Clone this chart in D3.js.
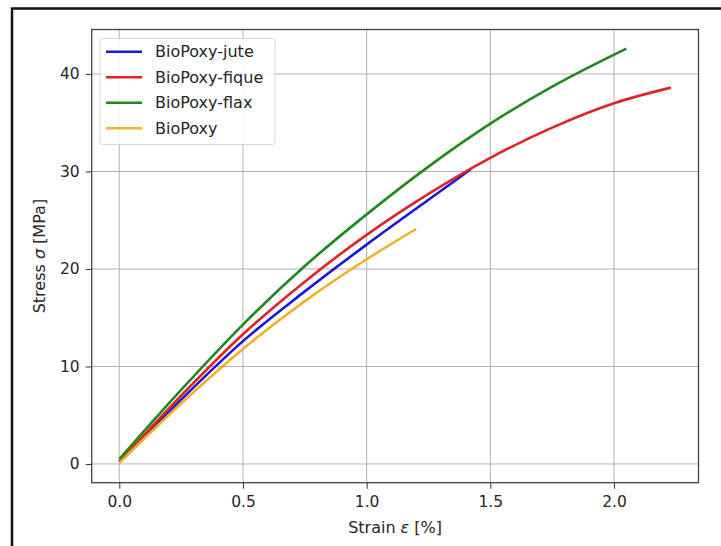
<!DOCTYPE html>
<meta charset="utf-8">
<style>
body {
  margin: 0;
  background: #fff;
  font-family: "DejaVu Sans";
}
.grid line {
  stroke: #b0b0b0;
  stroke-width: 1;
}
.tick text {
  font-size: 15.5px;
  fill: #262626;
}
.series {
  fill: none;
  stroke-width: 2.6;
}
</style>
<body>
<script src="https://d3js.org/d3.v7.min.js"></script>
<script>

var width = 721,
    height = 546;

var xTicks = [0.0, 0.5, 1.0, 1.5, 2.0],
    yTicks = [0, 10, 20, 30, 40];

var names = ["BioPoxy-jute", "BioPoxy-fique", "BioPoxy-flax", "BioPoxy"];
var colors = ["#1818d8", "#e02424", "#1e8a1e", "#f0b02a"];

// strain [%], stress [MPa]
var jute = [[0, 0.2], [0.25, 6.6], [0.5, 12.6], [0.75, 17.7], [1.0, 22.5], [1.25, 27.1], [1.42, 30.2]];
var fique = [[0, 0.2], [0.25, 7.0], [0.5, 13.3], [0.75, 18.7], [1.0, 23.5], [1.25, 27.7], [1.5, 31.4], [1.75, 34.5], [2.0, 37.0], [2.23, 38.6]];
var flax = [[0, 0.5], [0.25, 7.6], [0.5, 14.3], [0.75, 20.3], [1.0, 25.6], [1.25, 30.5], [1.5, 34.9], [1.75, 38.7], [2.05, 42.6]];
var bioPoxy = [[0, 0.1], [0.25, 6.2], [0.5, 11.8], [0.75, 16.7], [1.0, 21.0], [1.2, 24.1]];

var series = [jute, fique, flax, bioPoxy];

var plot = {left: 91.7, right: 698.5, top: 29.5, bottom: 482.7};

var x = d3.scaleLinear()
    .domain([-0.1115, 2.3415])
    .range([plot.left, plot.right]);

var y = d3.scaleLinear()
    .domain([-1.92, 44.56])
    .range([plot.bottom, plot.top]);

var svg = d3.select("body").append("svg")
    .attr("width", width)
    .attr("height", height);

svg.append("rect")
    .attr("width", width)
    .attr("height", height)
    .attr("fill", "#fff");

// outer frame around the figure
svg.append("rect")
    .attr("x", 12)
    .attr("y", 8.5)
    .attr("width", 720)
    .attr("height", 545)
    .attr("fill", "none")
    .attr("stroke", "#111")
    .attr("stroke-width", 2.5);

// grid
var grid = svg.append("g").attr("class", "grid");

grid.selectAll(".gx")
    .data(xTicks)
  .enter().append("line")
    .attr("x1", function(d) { return x(d); })
    .attr("x2", function(d) { return x(d); })
    .attr("y1", plot.top)
    .attr("y2", plot.bottom);

grid.selectAll(".gy")
    .data(yTicks)
  .enter().append("line")
    .attr("y1", function(d) { return y(d); })
    .attr("y2", function(d) { return y(d); })
    .attr("x1", plot.left)
    .attr("x2", plot.right);

// axes
var xAxis = svg.append("g")
    .attr("transform", "translate(0," + plot.bottom + ")")
    .call(d3.axisBottom(x).tickValues(xTicks).tickFormat(d3.format(".1f")).tickSize(6).tickPadding(7));

var yAxis = svg.append("g")
    .attr("transform", "translate(" + plot.left + ",0)")
    .call(d3.axisLeft(y).tickValues(yTicks).tickSize(6).tickPadding(6));

[xAxis, yAxis].forEach(function(a) {
  a.select(".domain").remove();
  a.selectAll(".tick line").attr("stroke", "#333").attr("stroke-width", 1);
  a.selectAll(".tick text").attr("font-family", "DejaVu Sans");
});

// lines
var line = d3.line()
    .x(function(d) { return x(d[0]); })
    .y(function(d) { return y(d[1]); })
    .curve(d3.curveMonotoneX);

svg.selectAll(".series")
    .data(series)
  .enter().append("path")
    .attr("class", "series")
    .attr("stroke", function(d, i) { return colors[i]; })
    .attr("d", line);

// spines
svg.append("rect")
    .attr("x", plot.left)
    .attr("y", plot.top)
    .attr("width", plot.right - plot.left)
    .attr("height", plot.bottom - plot.top)
    .attr("fill", "none")
    .attr("stroke", "#444")
    .attr("stroke-width", 1.3);

// axis labels (symbols in math italic)
function label(sel, before, sym, after) {
  sel.append("tspan").text(before);
  sel.append("tspan").attr("font-style", "italic").text(sym);
  sel.append("tspan").text(after);
}

svg.append("text")
    .attr("x", (plot.left + plot.right) / 2)
    .attr("y", 533)
    .attr("text-anchor", "middle")
    .attr("font-size", "16px")
    .attr("fill", "#262626")
    .call(label, "Strain ", "ε", " [%]");

svg.append("text")
    .attr("transform", "translate(45," + (plot.top + plot.bottom) / 2 + ") rotate(-90)")
    .attr("text-anchor", "middle")
    .attr("font-size", "16px")
    .attr("fill", "#262626")
    .call(label, "Stress ", "σ", " [MPa]");

// legend
var legend = svg.append("g");

legend.append("rect")
    .attr("x", 100)
    .attr("y", 38.5)
    .attr("width", 175)
    .attr("height", 106)
    .attr("rx", 3)
    .attr("fill", "#fff")
    .attr("fill-opacity", 0.85)
    .attr("stroke", "#d6d6d6");

var items = legend.selectAll(".item")
    .data(names)
  .enter().append("g")
    .attr("transform", function(d, i) { return "translate(0," + (51.7 + i * 25.5) + ")"; });

items.append("line")
    .attr("x1", 106)
    .attr("x2", 142)
    .attr("stroke", function(d, i) { return colors[i]; })
    .attr("stroke-width", 2.6);

items.append("text")
    .attr("x", 155)
    .attr("dy", "0.36em")
    .attr("font-size", "16px")
    .attr("fill", "#262626")
    .text(function(d) { return d; });

</script>
